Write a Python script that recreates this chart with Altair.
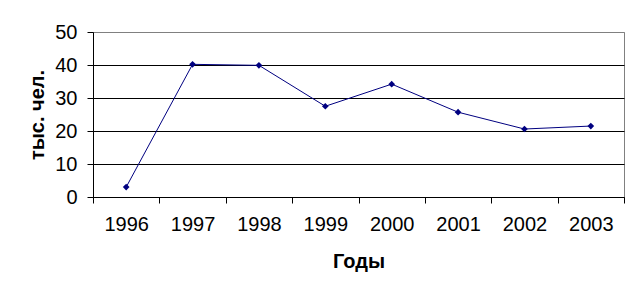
import altair as alt
import pandas as pd

years = ["1996", "1997", "1998", "1999", "2000", "2001", "2002", "2003"]
values = [3.0, 40.2, 39.9, 27.5, 34.2, 25.7, 20.6, 21.5]

df = pd.DataFrame({"year": years, "value": values})

FONT = "Liberation Sans"

x = alt.X(
    "year:N",
    sort=years,
    scale=alt.Scale(type="band", paddingInner=0, paddingOuter=0),
    axis=alt.Axis(
        title="Годы",
        titleFont=FONT, titleFontSize=20, titleFontWeight="bold", titleColor="black",
        titleBaseline="alphabetic", titleY=70,
        labelFont=FONT, labelFontSize=20, labelColor="black", labelAngle=0,
        labelPadding=11,
        tickBand="extent", tickSize=6, tickColor="black", domainColor="black",
        grid=False,
    ),
)
y = alt.Y(
    "value:Q",
    scale=alt.Scale(domain=[0, 50], nice=False),
    axis=alt.Axis(
        title="тыс. чел.",
        titleFont=FONT, titleFontSize=20, titleFontWeight="bold", titleColor="black",
        titleBaseline="alphabetic", titleX=-50,
        labelFont=FONT, labelFontSize=20, labelColor="black",
        labelPadding=10,
        values=[0, 10, 20, 30, 40, 50],
        tickSize=6, tickColor="black", domainColor="black",
        grid=True,
        gridColor=alt.condition("datum.value == 50", alt.value("#808080"), alt.value("black")),
        gridWidth=1,
    ),
)

line = alt.Chart(df).mark_line(color="#000080", strokeWidth=1).encode(x=x, y=y)
pts = alt.Chart(df).mark_point(shape="diamond", filled=True, color="#000080", size=45, opacity=1).encode(x=x, y=y)

chart = (
    alt.layer(line, pts)
    .properties(
        width=531,
        height=165,
        autosize=alt.AutoSizeParams(type="none"),
        padding={"left": 93, "top": 32, "right": 17, "bottom": 99},
        background="white",
    )
    .configure_view(stroke="#808080", strokeWidth=1)
)

chart.save("out.html", embed_options={"renderer": "svg", "actions": False})
